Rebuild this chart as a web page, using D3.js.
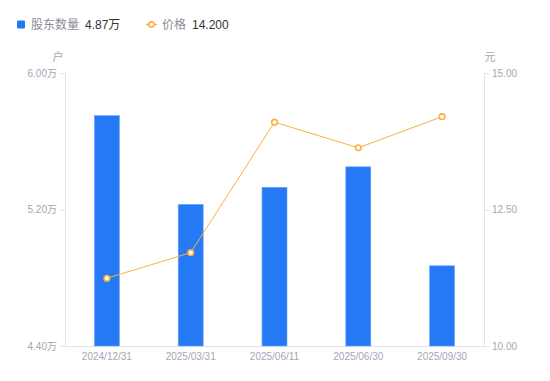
<!DOCTYPE html>
<html lang="zh">
<head>
  <meta charset="UTF-8">
  <title>股东数量</title>
  <style>
    body { margin: 0; background: #fff; }
    #main { width: 550px; height: 381px; }
    text { font-family: "Liberation Sans", "Noto Sans CJK SC", sans-serif; }
  </style>
</head>
<body>
  <div id="main"></div>
  <script src="https://d3js.org/d3.v7.min.js"></script>
  <script>
    // 数据
    const categories = ['2024/12/31', '2025/03/31', '2025/06/11', '2025/06/30', '2025/09/30']
    const holders = [5.75, 5.23, 5.33, 5.45, 4.87]   // 万户
    const prices = [11.24, 11.71, 14.10, 13.63, 14.20]
    const leftTicks = [4.40, 5.20, 6.00]
    const rightTicks = [10.00, 12.50, 15.00]

    const [width, height] = [550, 381]
    const margin = { top: 73, right: 66, bottom: 35, left: 65 }
    const blue = '#2679f5'
    const orange = '#f8b040'
    const axisColor = '#e3e4e8'
    const labelColor = '#a3a6b4'

    const svg = d3.select('#main').append('svg')
      .attr('width', width)
      .attr('height', height)

    const x = d3.scaleBand()
      .domain(categories)
      .range([margin.left, width - margin.right])

    const yL = d3.scaleLinear().domain([4.4, 6.0]).range([height - margin.bottom, margin.top])
    const yR = d3.scaleLinear().domain([10, 15]).range([height - margin.bottom, margin.top])

    // 左轴
    const gl = svg.append('g')
      .attr('transform', `translate(${margin.left},0)`)
      .call(d3.axisLeft(yL).tickValues(leftTicks).tickSize(5).tickPadding(3)
        .tickFormat(d => d3.format('.2f')(d) + '万'))
    // 右轴
    const gr = svg.append('g')
      .attr('transform', `translate(${width - margin.right},0)`)
      .call(d3.axisRight(yR).tickValues(rightTicks).tickSize(5).tickPadding(3)
        .tickFormat(d3.format('.2f')))
    // 底轴
    const gb = svg.append('g')
      .attr('transform', `translate(0,${height - margin.bottom})`)
      .call(d3.axisBottom(x).tickSize(0).tickPadding(7))

    ;[gl, gr, gb].forEach(g => {
      g.select('.domain').attr('stroke', axisColor)
      g.selectAll('.tick line').attr('stroke', axisColor)
      g.selectAll('text').attr('fill', labelColor).style('font-size', '10px')
        .style('font-family', '"Liberation Sans", "Noto Sans CJK SC", sans-serif')
    })

    svg.append('text').attr('x', 58).attr('y', 61).attr('text-anchor', 'middle')
      .attr('fill', labelColor).style('font-size', '11px').text('户')
    svg.append('text').attr('x', 490).attr('y', 61).attr('text-anchor', 'middle')
      .attr('fill', labelColor).style('font-size', '11px').text('元')

    // 柱
    const bw = 25
    svg.append('g').selectAll('rect').data(holders).join('rect')
      .attr('x', (d, i) => x(categories[i]) + x.bandwidth() / 2 - bw / 2)
      .attr('y', d => yL(d))
      .attr('width', bw)
      .attr('height', d => yL(4.4) - yL(d))
      .attr('fill', blue)
      .attr('stroke', '#6aa3f8')
      .attr('stroke-width', 0.6)

    // 折线
    const line = d3.line()
      .x((d, i) => x(categories[i]) + x.bandwidth() / 2)
      .y(d => yR(d))
    svg.append('path').datum(prices)
      .attr('d', line)
      .attr('fill', 'none')
      .attr('stroke', orange)
      .attr('stroke-width', 1)
    svg.append('g').selectAll('circle').data(prices).join('circle')
      .attr('cx', (d, i) => x(categories[i]) + x.bandwidth() / 2)
      .attr('cy', d => yR(d))
      .attr('r', 2.8)
      .attr('fill', '#fff')
      .attr('stroke', orange)
      .attr('stroke-width', 1.6)

    // 图例
    const lg = svg.append('g').style('font-size', '12px')
    lg.append('rect').attr('x', 17).attr('y', 20.5).attr('width', 8).attr('height', 8)
      .attr('rx', 1).attr('fill', blue)
    lg.append('text').attr('x', 31).attr('y', 29).attr('fill', '#8a8d99').text('股东数量')
    lg.append('text').attr('x', 85).attr('y', 29).attr('fill', '#333')
      .text(d3.format('.2f')(holders[holders.length - 1]) + '万')
    lg.append('line').attr('x1', 146).attr('x2', 157).attr('y1', 24.5).attr('y2', 24.5)
      .attr('stroke', orange).attr('stroke-width', 1.5)
    lg.append('circle').attr('cx', 151.5).attr('cy', 24.5).attr('r', 2.6)
      .attr('fill', '#fff').attr('stroke', orange).attr('stroke-width', 1.6)
    lg.append('text').attr('x', 162).attr('y', 29).attr('fill', '#8a8d99').text('价格')
    lg.append('text').attr('x', 192).attr('y', 29).attr('fill', '#333')
      .text(d3.format('.3f')(prices[prices.length - 1]))
  </script>
</body>
</html>
